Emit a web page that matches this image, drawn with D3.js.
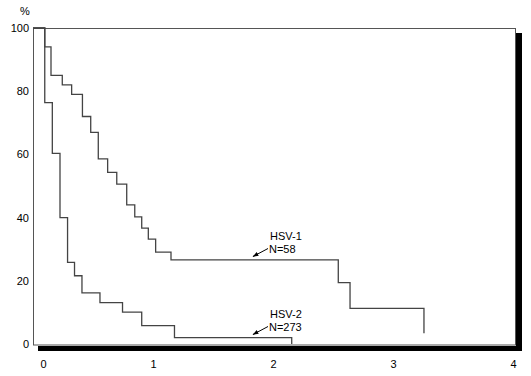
<!DOCTYPE html>
<html>
<head>
<meta charset="utf-8">
<script src="https://cdn.jsdelivr.net/npm/d3@7"></script>
<style>
  body { margin: 0; background: #fff; }
  svg { display: block; font-family: "Liberation Sans", Arial, sans-serif; }
</style>
</head>
<body>
<div id="chart"></div>
<script>
// Kaplan-Meier style curves (years, % still positive)
const hsv1Times  = [0, 0.098, 0.15, 0.244, 0.322, 0.412, 0.481, 0.544, 0.622, 0.698, 0.781, 0.848, 0.906, 0.961, 1.022, 1.15, 2.544, 2.642, 3.258];
const hsv1Values = [100, 94, 85, 82, 79, 72, 67, 58.6, 54.3, 50.6, 44, 40.2, 36.7, 33.2, 29.1, 26.6, 19.4, 11.3, 3.4];
const hsv2Times  = [0, 0.098, 0.161, 0.225, 0.288, 0.346, 0.408, 0.558, 0.746, 0.906, 1.179, 2.156];
const hsv2Values = [100, 76.4, 60.3, 40, 25.8, 21.6, 16.2, 13.1, 10.1, 5.8, 2, 0];
const xTicks = [0, 1, 2, 3, 4];
const yTicks = [0, 20, 40, 60, 80, 100];
const seriesLabels = [["HSV-1", "N=58"], ["HSV-2", "N=273"]];

const W = 531, H = 376;
const svg = d3.select("#chart").append("svg")
  .attr("width", W)
  .attr("height", H);

const x = d3.scaleLinear().domain([0, 4]).range([33, 513]);
const y = d3.scaleLinear().domain([0, 100]).range([344, 28]);

// shadow behind frame
svg.append("rect").attr("x", 38).attr("y", 346).attr("width", 484).attr("height", 5).attr("fill", "#000");
svg.append("rect").attr("x", 516).attr("y", 33).attr("width", 6).attr("height", 318).attr("fill", "#000");

// frame
svg.append("rect")
  .attr("x", 33.5).attr("y", 28.5)
  .attr("width", 482).attr("height", 316.5)
  .attr("fill", "none")
  .attr("stroke", "#555")
  .attr("stroke-width", 1);

// axes
const yAxis = svg.append("g")
  .attr("transform", "translate(33,0)")
  .call(d3.axisLeft(y).tickValues(yTicks).tickFormat(d3.format("d")).tickSize(0).tickPadding(4));
const xAxis = svg.append("g")
  .attr("transform", "translate(0,344)")
  .call(d3.axisBottom(x).tickValues(xTicks).tickFormat(d3.format("d")).tickSize(0).tickPadding(16));
[yAxis, xAxis].forEach(g => {
  g.select(".domain").remove();
  g.selectAll("text").style("font-size", "11px").style("font-family", "Liberation Sans, Arial, sans-serif").attr("fill", "#000");
});
// the "0" on the x axis sits a little to the right of the corner
xAxis.selectAll(".tick").filter(d => d === 0).select("text").attr("dx", 10);

svg.append("text")
  .attr("x", 25).attr("y", 15)
  .attr("text-anchor", "middle")
  .style("font-size", "11px")
  .text("%");

// curves
const line = d3.line()
  .x(d => x(d[0]))
  .y(d => y(d[1]))
  .curve(d3.curveStepAfter);

[[hsv1Times, hsv1Values], [hsv2Times, hsv2Values]].forEach(([t, v]) => {
  svg.append("path")
    .attr("d", line(t.map((d, i) => [d, v[i]])))
    .attr("fill", "none")
    .attr("stroke", "#444")
    .attr("stroke-width", 1.3);
});

// annotations with arrows
svg.append("defs").append("marker")
  .attr("id", "ah")
  .attr("viewBox", "0 0 10 10")
  .attr("refX", 9).attr("refY", 5)
  .attr("markerWidth", 6).attr("markerHeight", 6)
  .attr("orient", "auto")
  .append("path").attr("d", "M0,1.5L10,5L0,8.5Z").attr("fill", "#000");

const annY = [239.5, 317.5];
seriesLabels.forEach((lab, i) => {
  const by = annY[i];
  svg.append("text").attr("x", 270).attr("y", by)
    .style("font-size", "11px").text(lab[0]);
  svg.append("text").attr("x", 269).attr("y", by + 13.5)
    .style("font-size", "11px").text(lab[1]);
  svg.append("line")
    .attr("x1", 268).attr("y1", by + 9)
    .attr("x2", 253).attr("y2", by + 17)
    .attr("stroke", "#000").attr("stroke-width", 1)
    .attr("marker-end", "url(#ah)");
});
</script>
</body>
</html>
